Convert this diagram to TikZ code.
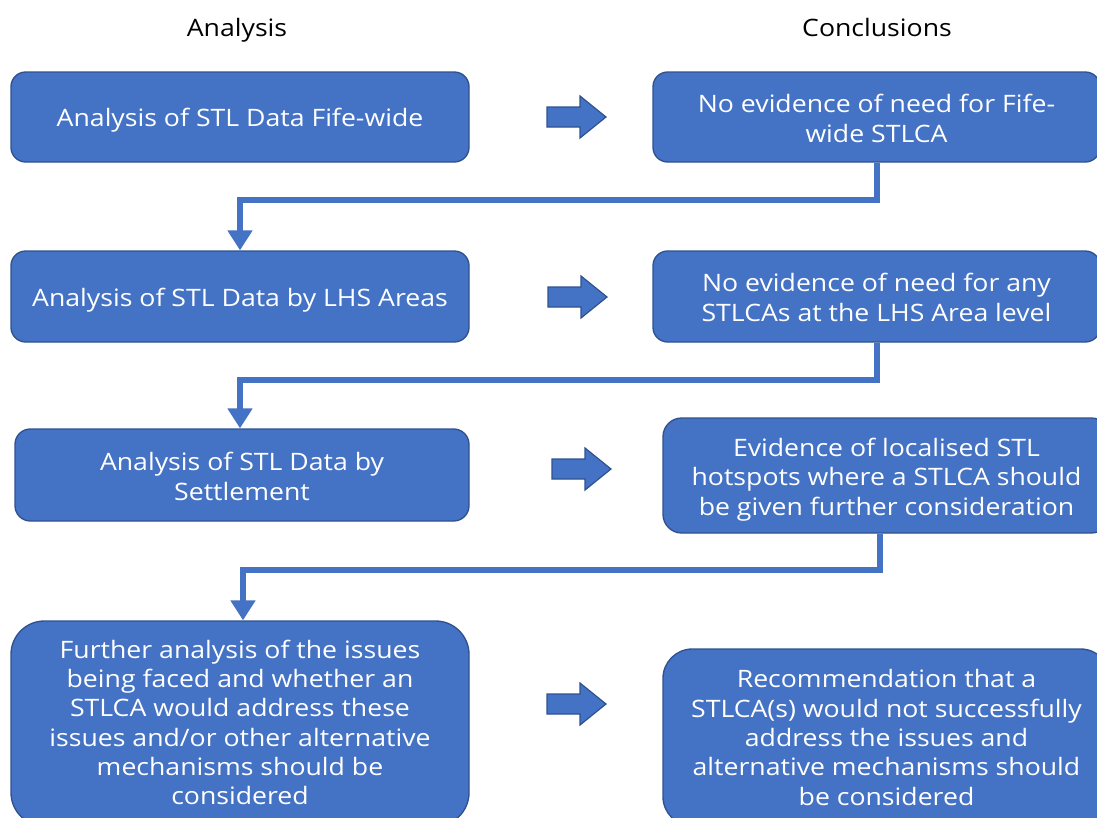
\documentclass[tikz,border=0pt]{standalone}
\usepackage{fontspec}
\setmainfont{Open Sans}[FakeStretch=1.11]
\usetikzlibrary{arrows.meta}
\definecolor{boxfill}{HTML}{4472C4}
\definecolor{boxline}{HTML}{2F528F}
\tikzset{
  flowbox/.style={draw=boxline, fill=boxfill, line width=1pt, inner sep=0pt},
  flowtext/.style={text=white, align=center, inner sep=0pt,
    font=\fontsize{18}{22}\selectfont},
  blockarr/.style={draw=boxline, fill=boxfill, line width=0.9pt, line join=miter},
  conn/.style={draw=boxfill, line width=4.5pt, line join=miter,
    -{Triangle[width=18pt,length=15pt]}},
  header/.style={font=\fontsize{18}{22}\selectfont, text=black, anchor=base, inner sep=0pt}
}
\begin{document}
\begin{tikzpicture}[x=0.75pt,y=-0.75pt]
\useasboundingbox (0,0) rectangle (1097,818);
\clip (0,0) rectangle (1097,818);
\fill[white] (0,0) rectangle (1097,818);

\node[header] (hA) at (237,36) {Analysis};
\node[header] (hC) at (877,36) {Conclusions};

% Analysis column boxes
\node[flowbox, minimum width=343.5pt, minimum height=67.5pt, rounded corners=11pt] (A1) at (240,117) {};
\node[flowbox, minimum width=343.5pt, minimum height=68.25pt, rounded corners=11pt] (A2) at (240,296.5) {};
\node[flowbox, minimum width=340.5pt, minimum height=69pt, rounded corners=11.5pt] (A3) at (242,475) {};
\node[flowbox, minimum width=343.5pt, minimum height=153.75pt, rounded corners=25pt] (A4) at (240,723.5) {};

% Conclusions column boxes
\node[flowbox, minimum width=335.25pt, minimum height=67.5pt, rounded corners=11pt] (C1) at (876.5,117) {};
\node[flowbox, minimum width=335.25pt, minimum height=68.25pt, rounded corners=11pt] (C2) at (876.5,296.5) {};
\node[flowbox, minimum width=335.25pt, minimum height=86.25pt, rounded corners=14pt] (C3) at (886.5,475.5) {};
\node[flowbox, minimum width=335.25pt, minimum height=132.75pt, rounded corners=22pt] (C4) at (886.5,737.5) {};

% texts
\node[flowtext] (A1t) at ([yshift=-2.25pt]A1.center) {Analysis of STL Data Fife-wide};
\node[flowtext] (A2t) at ([yshift=-3pt]A2.center) {Analysis of STL Data by LHS Areas};
\node[flowtext] (A3t) at ([yshift=-1.1pt]A3.center) {Analysis of STL Data by\\Settlement};
\node[flowtext] (A4t) at ([yshift=0.75pt]A4.center) {Further analysis of the issues\\being faced and whether an\\STLCA would address these\\issues and/or other alternative\\mechanisms should be\\considered};
\node[flowtext] (C1t) at ([yshift=-1.1pt]C1.center) {No evidence of need for Fife-\\wide STLCA};
\node[flowtext] (C2t) at ([yshift=-0.75pt]C2.center) {No evidence of need for any\\STLCAs at the LHS Area level};
\node[flowtext] (C3t) at ([yshift=-3pt]C3.center) {Evidence of localised STL\\hotspots where a STLCA should\\be given further consideration};
\node[flowtext] (C4t) at (C4.center) {Recommendation that a\\STLCA(s) would not successfully\\address the issues and\\alternative mechanisms should\\be considered};

% block arrows (left end of shaft, centre line)
\coordinate (B1) at (547,117);
\coordinate (B2) at (548,297);
\coordinate (B3) at (552,469);
\coordinate (B4) at (547,704);
\foreach \b in {B1,B2,B3,B4}{
  \draw[blockarr] (\b) ++(0,-10) -- ++(33,0) -- ++(0,-11) -- ++(26,21)
     -- ++(-26,21) -- ++(0,-11) -- ++(-33,0) -- cycle;
}

% connectors
\draw[conn] (C1.south) -- ++(0,37) -| (A2.north);
\draw[conn] (C2.south) -- ++(0,37) -| ([xshift=-1.5pt]A3.north);
\draw[conn] ([xshift=-4.9pt]C3.south) -- ++(0,36) -| ([xshift=2.25pt]A4.north);
\end{tikzpicture}
\end{document}
